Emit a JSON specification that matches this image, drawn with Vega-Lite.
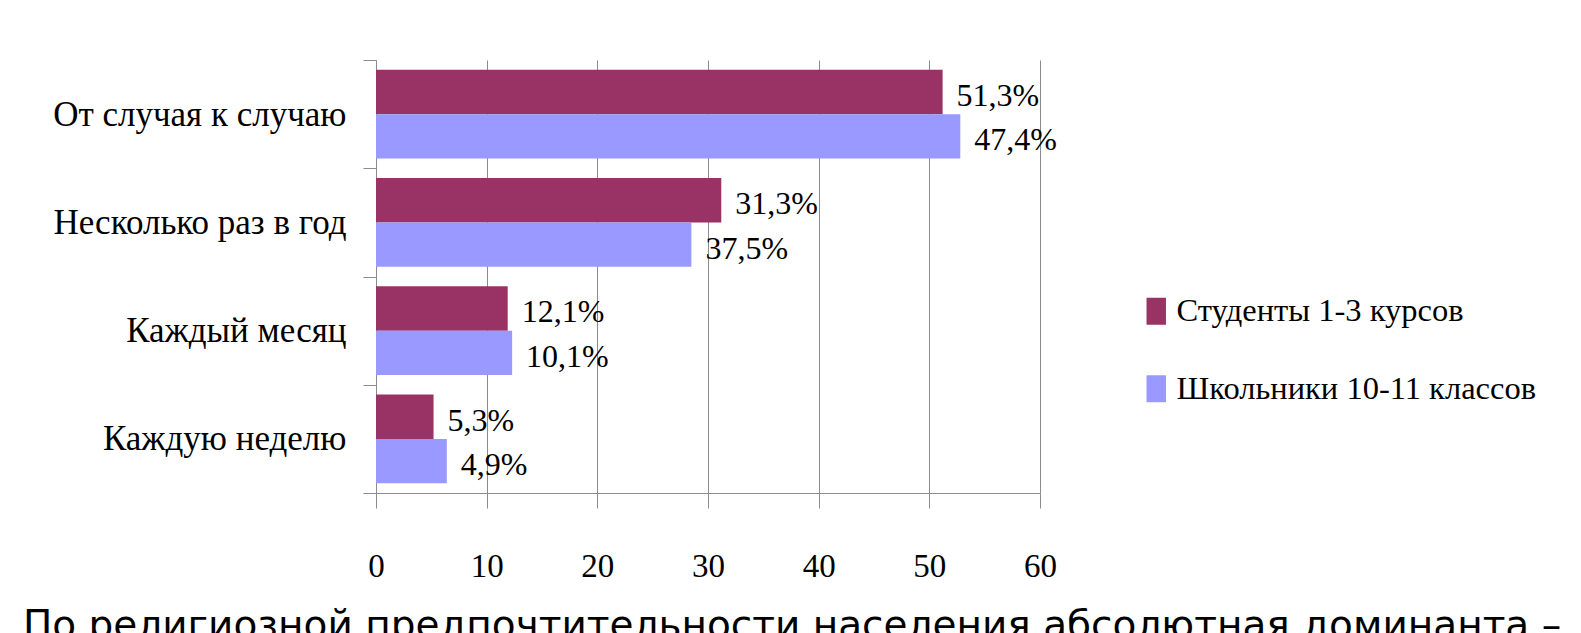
{
  "$schema": "https://vega.github.io/schema/vega-lite/v6.json",
  "width": 664,
  "height": 433,
  "autosize": {"type": "none"},
  "padding": {"left": 376, "top": 60, "right": 541, "bottom": 140},
  "background": "white",
  "config": {"view": {"stroke": null}, "font": "Liberation Serif"},
  "title": {
    "text": "По религиозной предпочтительности населения абсолютная доминанта –",
    "orient": "bottom",
    "anchor": "start",
    "frame": "group",
    "dx": -353,
    "offset": 24,
    "font": "DejaVu Sans",
    "fontSize": 39,
    "fontWeight": "normal",
    "color": "black",
    "baseline": "top"
  },
  "data": {
    "values": [
      {"cat": "От случая к случаю", "group": "Студенты 1-3 курсов", "value": 51.2, "label": "51,3%"},
      {"cat": "От случая к случаю", "group": "Школьники 10-11 классов", "value": 52.8, "label": "47,4%"},
      {"cat": "Несколько раз в год", "group": "Студенты 1-3 курсов", "value": 31.2, "label": "31,3%"},
      {"cat": "Несколько раз в год", "group": "Школьники 10-11 классов", "value": 28.5, "label": "37,5%"},
      {"cat": "Каждый месяц", "group": "Студенты 1-3 курсов", "value": 11.9, "label": "12,1%"},
      {"cat": "Каждый месяц", "group": "Школьники 10-11 классов", "value": 12.3, "label": "10,1%"},
      {"cat": "Каждую неделю", "group": "Студенты 1-3 курсов", "value": 5.2, "label": "5,3%"},
      {"cat": "Каждую неделю", "group": "Школьники 10-11 классов", "value": 6.4, "label": "4,9%"}
    ]
  },
  "encoding": {
    "y": {
      "field": "cat",
      "type": "nominal",
      "sort": ["От случая к случаю", "Несколько раз в год", "Каждый месяц", "Каждую неделю"],
      "scale": {"paddingInner": 0, "paddingOuter": 0},
      "axis": {
        "title": null,
        "tickBand": "extent",
        "tickSize": 13,
        "domainColor": "#8c8c8c",
        "tickColor": "#8c8c8c",
        "labelPadding": 17,
        "labelFontSize": 35,
        "labelColor": "black",
        "labelLimit": 0,
        "grid": false
      }
    },
    "yOffset": {
      "field": "group",
      "type": "nominal",
      "sort": ["Студенты 1-3 курсов", "Школьники 10-11 классов"],
      "scale": {"paddingInner": 0, "paddingOuter": 0.22}
    },
    "x": {
      "field": "value",
      "type": "quantitative",
      "scale": {"domain": [0, 60], "nice": false},
      "axis": {
        "title": null,
        "values": [0, 10, 20, 30, 40, 50, 60],
        "grid": true,
        "gridColor": "#8c8c8c",
        "domainColor": "#8c8c8c",
        "tickColor": "#8c8c8c",
        "tickSize": 15,
        "labelPadding": 42,
        "labelFontSize": 33,
        "labelColor": "black",
        "labelFlush": false
      }
    }
  },
  "layer": [
    {
      "mark": {"type": "bar"},
      "encoding": {
        "color": {
          "field": "group",
          "type": "nominal",
          "scale": {"domain": ["Студенты 1-3 курсов", "Школьники 10-11 классов"], "range": ["#993366", "#9999FF"]},
          "legend": {
            "orient": "none",
            "legendX": 764,
            "legendY": 235,
            "title": null,
            "symbolType": "M-0.72,-1H0.72V1H-0.72Z",
            "symbolSize": 729,
            "symbolStrokeWidth": 0,
            "labelFont": "Liberation Serif",
            "labelFontSize": 32.5,
            "labelColor": "black",
            "labelOffset": 4,
            "rowPadding": 44.5,
            "labelLimit": 0
          }
        }
      }
    },
    {
      "mark": {"type": "text", "align": "left", "dx": 14, "dy": 4, "fontSize": 32, "color": "black"},
      "encoding": {"text": {"field": "label", "type": "nominal"}}
    }
  ]
}
